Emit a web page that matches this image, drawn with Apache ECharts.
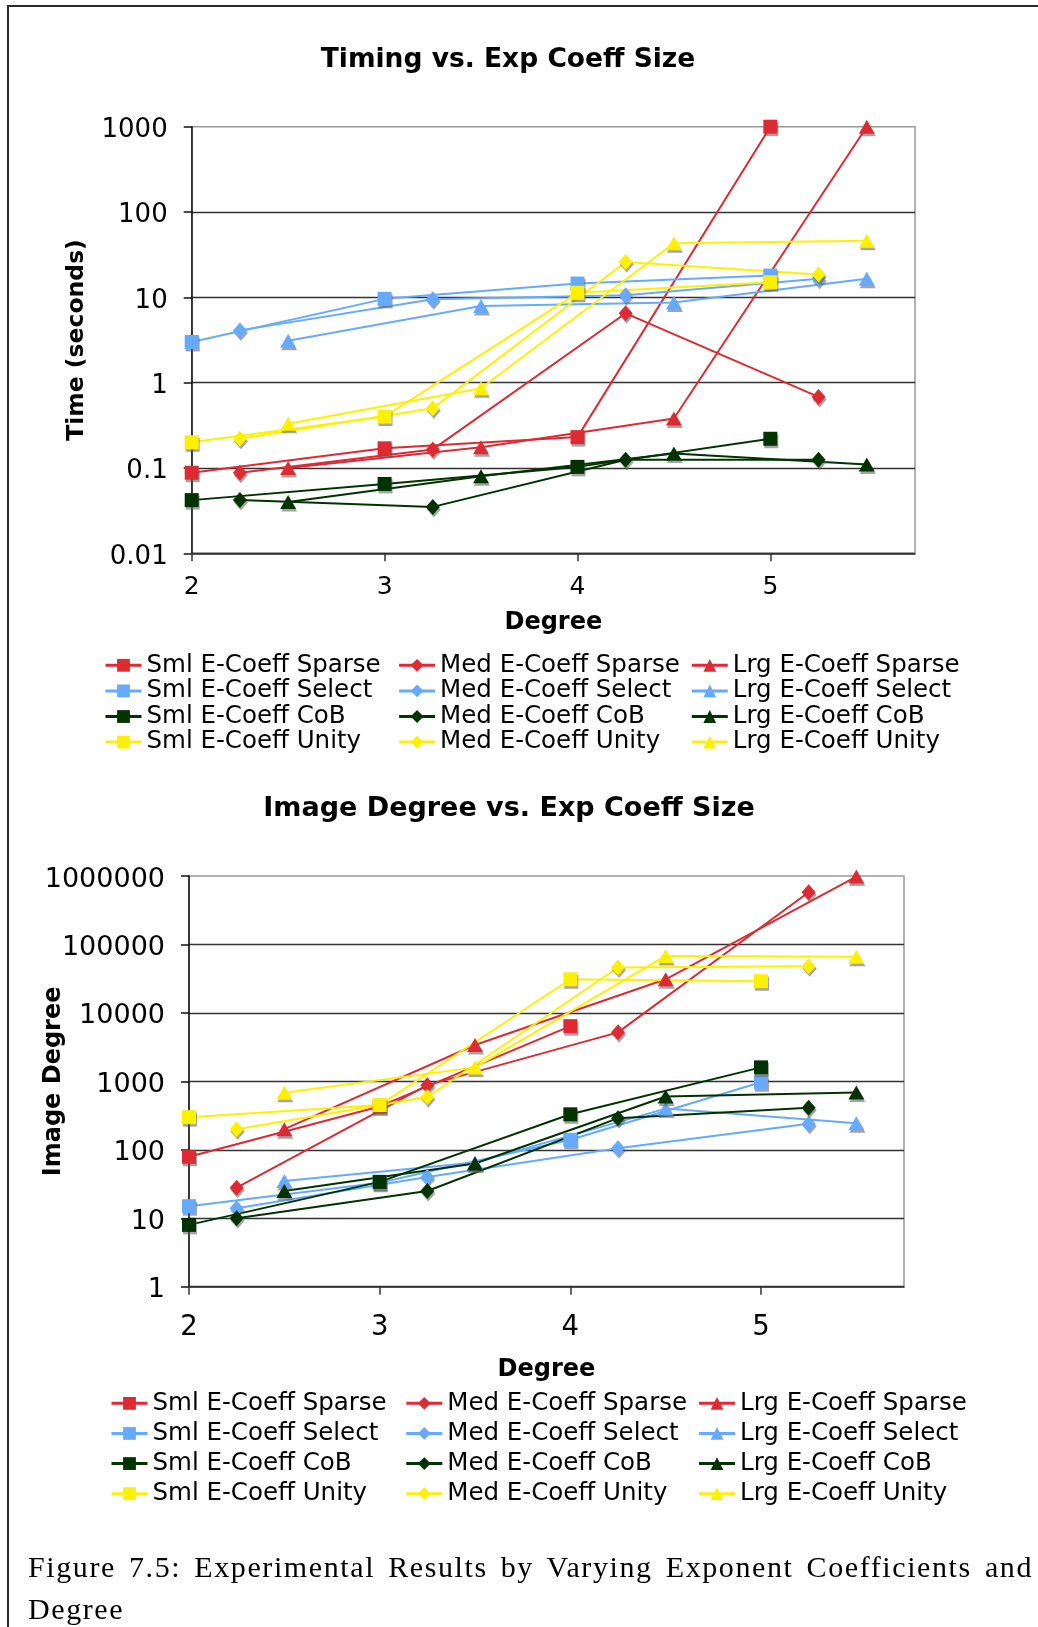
<!DOCTYPE html>
<html>
<head>
<meta charset="utf-8">
<script src="https://cdn.jsdelivr.net/npm/echarts@6/dist/echarts.min.js"></script>
<style>
  html, body { margin: 0; padding: 0; background: #fff; }
  #frame { position: absolute; left: 7px; top: 5px; width: 1200px; height: 1700px;
           border-left: 2px solid #2a2a2a; border-top: 2px solid #2a2a2a; }
  #chart { position: absolute; left: 0; top: 0; width: 1038px; height: 1627px; }
  .cap { position: absolute; left: 28px; width: 1005px; white-space: nowrap;
         font-family: "Liberation Serif", serif; font-size: 30px; line-height: 41.7px;
         letter-spacing: 1.6px; color: #000; }
  #cap1 { top: 1546px; text-align: justify; text-align-last: justify; }
  #cap2 { top: 1587.7px; text-align: left; }
</style>
</head>
<body>
<div id="frame"></div>
<div id="chart"></div>
<div class="cap" id="cap1">Figure 7.5: Experimental Results by Varying Exponent Coefficients and</div>
<div class="cap" id="cap2">Degree</div>
<script>
// ---------- DATA ----------
const DEGREE_SML = [2, 3, 4, 5];
const DEGREE_MED = [2.25, 3.25, 4.25, 5.25];
const DEGREE_LRG = [2.5, 3.5, 4.5, 5.5];
const X_TICKS = [2, 3, 4, 5];

// Timing (seconds)
const timeSmlSparse = [0.088, 0.17, 0.23, 1000];
const timeMedSparse = [0.088, 0.165, 6.5, 0.68];
const timeLrgSparse = [0.10, 0.175, 0.38, 1000];
const timeSmlSelect = [3.0, 9.6, 14.5, 18];
const timeMedSelect = [4.1, 9.5, 10.6, 16.5];
const timeLrgSelect = [3.1, 7.9, 8.7, 16.5];
const timeSmlCoB = [0.042, 0.065, 0.103, 0.22];
const timeMedCoB = [0.042, 0.035, 0.125, 0.125];
const timeLrgCoB = [0.04, 0.08, 0.148, 0.11];
const timeSmlUnity = [0.2, 0.4, 11.3, 15];
const timeMedUnity = [0.22, 0.5, 26, 18.5];
const timeLrgUnity = [0.33, 0.86, 43, 46];

// Image degree
const imgSmlSparse = [79, 430, 6400, null];
const imgMedSparse = [28, 880, 5200, 580000];
const imgLrgSparse = [200, 3400, 31000, 980000];
const imgSmlSelect = [15, 33, 140, 970];
const imgMedSelect = [14, 40, 105, 240];
const imgLrgSelect = [35, 65, 400, 245];
const imgSmlCoB = [8, 34, 330, 1600];
const imgMedCoB = [10, 25, 290, 410];
const imgLrgCoB = [25, 63, 600, 690];
const imgSmlUnity = [300, 450, 31000, 29000];
const imgMedUnity = [200, 590, 46000, 48000];
const imgLrgUnity = [680, 1600, 68000, 66000];

const SIZES = ['Sml', 'Med', 'Lrg'];
const METHODS = ['Sparse', 'Select', 'CoB', 'Unity'];
const TIME_DATA = {
  Sparse: [timeSmlSparse, timeMedSparse, timeLrgSparse],
  Select: [timeSmlSelect, timeMedSelect, timeLrgSelect],
  CoB: [timeSmlCoB, timeMedCoB, timeLrgCoB],
  Unity: [timeSmlUnity, timeMedUnity, timeLrgUnity]
};
const IMG_DATA = {
  Sparse: [imgSmlSparse, imgMedSparse, imgLrgSparse],
  Select: [imgSmlSelect, imgMedSelect, imgLrgSelect],
  CoB: [imgSmlCoB, imgMedCoB, imgLrgCoB],
  Unity: [imgSmlUnity, imgMedUnity, imgLrgUnity]
};
const DEGREES = [DEGREE_SML, DEGREE_MED, DEGREE_LRG];

// ---------- STYLE ----------
const COLORS = { Sparse: '#dd2a33', Select: '#66aaff', CoB: '#003300', Unity: '#fff000' };
const SYMBOLS = ['rect', 'diamond', 'triangle'];
const SYMBOL_SIZES = [14, [14, 16], [16, 14]];
const FONT = '"DejaVu Sans", Verdana, sans-serif';

function seriesName(size, method) { return size + ' E-Coeff ' + method; }
function pairs(xs, ys) {
  const out = [];
  for (let i = 0; i < xs.length; i++) if (ys[i] != null) out.push([xs[i], ys[i]]);
  return out;
}

const series = [];
[0, 1].forEach(function (g) {
  const src = g === 0 ? TIME_DATA : IMG_DATA;
  METHODS.forEach(function (m) {
    SIZES.forEach(function (s, si) {
      series.push({
        name: seriesName(s, m),
        type: 'line',
        xAxisIndex: g, yAxisIndex: g,
        data: pairs(DEGREES[si], src[m][si]),
        symbol: SYMBOLS[si],
        symbolSize: SYMBOL_SIZES[si],
        showAllSymbol: true,
        animation: false,
        lineStyle: { color: COLORS[m], width: 2 },
        itemStyle: { color: COLORS[m], shadowColor: 'rgba(90,90,90,0.55)', shadowOffsetX: 1, shadowOffsetY: 2.5, shadowBlur: 0 },
        emphasis: { disabled: true }
      });
    });
  });
});

function logLabel(v) { return String(Number(Number(v).toPrecision(3))); }

function xAxis(gi, labelSize, labelMargin, nameGap) {
  return {
    type: 'value', gridIndex: gi, min: 2, max: 5.75, interval: 1,
    name: 'Degree', nameLocation: 'middle', nameGap: nameGap, nameMoveOverlap: false,
    nameTextStyle: { fontFamily: FONT, fontWeight: 'bold', fontSize: 24, color: '#000' },
    axisLine: { show: true, lineStyle: { color: '#333', width: 1.5 } },
    axisTick: { show: true, length: 8, lineStyle: { color: '#333', width: 1.5 }, customValues: X_TICKS },
    axisLabel: { fontFamily: FONT, fontSize: labelSize, color: '#000', margin: labelMargin, customValues: X_TICKS,
                 formatter: function (v) { return Number.isInteger(v) ? String(v) : ''; } },
    splitLine: { show: false }
  };
}
function yAxis(gi, min, max, split, labelSize, name, nameSize, nameGap) {
  return {
    type: 'log', logBase: 10, gridIndex: gi, min: min, max: max, splitNumber: split,
    name: name, nameLocation: 'middle', nameGap: nameGap, nameMoveOverlap: false,
    nameTextStyle: { fontFamily: FONT, fontWeight: 'bold', fontSize: nameSize, color: '#000' },
    axisLine: { show: true, lineStyle: { color: '#111', width: 1.5 } },
    axisTick: { show: true, length: 8, lineStyle: { color: '#111', width: 1.5 } },
    axisLabel: { fontFamily: FONT, fontSize: labelSize, color: '#000', margin: 24,
                 verticalAlign: 'top', lineHeight: 7, formatter: logLabel },
    splitLine: { show: true, showMaxLine: false, lineStyle: { color: '#333', width: 1.3 } },
    minorTick: { show: false }, minorSplitLine: { show: false }
  };
}

function legendCol(si, left, top, rowH) {
  return {
    orient: 'vertical', left: left, top: top, padding: 0, itemGap: 0,
    itemWidth: 36, itemHeight: 16, selectedMode: false,
    data: METHODS.map(function (m) { return seriesName(SIZES[si], m); }),
    textStyle: { fontFamily: FONT, fontSize: 24.5, color: '#000', lineHeight: rowH },
    lineStyle: { width: 3 },
    itemStyle: { shadowBlur: 0, shadowOffsetX: 0, shadowOffsetY: 0, shadowColor: 'transparent' }
  };
}

const TOP_COLS = [104, 397.6, 690.3];
const BOT_COLS = [110, 404.8, 697.5];

const option = {
  animation: false,
  backgroundColor: 'transparent',
  grid: [
    { left: 191.7, top: 126.7, width: 723.3, height: 426.6, show: true, borderColor: '#999', borderWidth: 1.5, containLabel: false },
    { left: 189, top: 876, width: 715, height: 410.7, show: true, borderColor: '#999', borderWidth: 1.5, containLabel: false }
  ],
  xAxis: [ xAxis(0, 25, 22, 57), xAxis(1, 27.5, 27, 71) ],
  yAxis: [
    yAxis(0, 0.01, 1000, 5, 26, 'Time (seconds)', 23.5, 103),
    yAxis(1, 1, 1000000, 6, 27, 'Image Degree', 24, 123)
  ],
  legend: [
    legendCol(0, TOP_COLS[0], 652.5, 25.6),
    legendCol(1, TOP_COLS[1], 652.5, 25.6),
    legendCol(2, TOP_COLS[2], 652.5, 25.6),
    legendCol(0, BOT_COLS[0], 1388.3, 30.1),
    legendCol(1, BOT_COLS[1], 1388.3, 30.1),
    legendCol(2, BOT_COLS[2], 1388.3, 30.1)
  ],
  graphic: [
    { type: 'text', x: 508, y: 60.5, silent: true,
      style: { text: 'Timing vs. Exp Coeff Size', font: 'bold 26.5px ' + FONT, fill: '#000',
               align: 'center', verticalAlign: 'middle', textAlign: 'center', textVerticalAlign: 'middle' } },
    { type: 'text', x: 509, y: 809, silent: true,
      style: { text: 'Image Degree vs. Exp Coeff Size', font: 'bold 27px ' + FONT, fill: '#000',
               align: 'center', verticalAlign: 'middle', textAlign: 'center', textVerticalAlign: 'middle' } }
  ],
  series: series
};

const chart = echarts.init(document.getElementById('chart'), null, { renderer: 'canvas', width: 1038, height: 1627 });
chart.setOption(option);
</script>
</body>
</html>
